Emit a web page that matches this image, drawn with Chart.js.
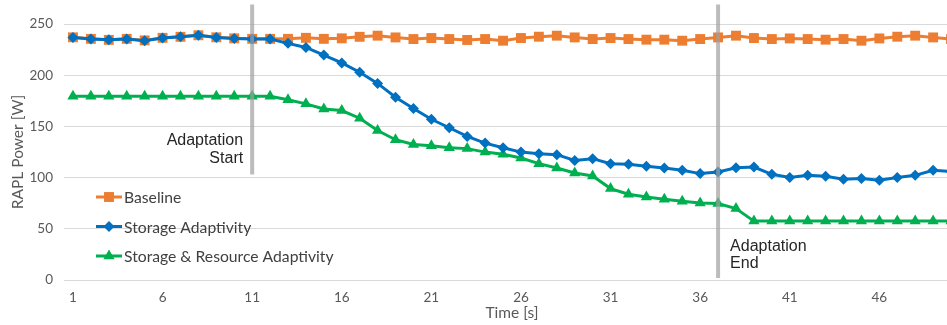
<!DOCTYPE html>
<html>
<head>
<meta charset="utf-8">
<script src="https://cdn.jsdelivr.net/npm/chart.js@4.4.1/dist/chart.umd.min.js"></script>
<style>
    html, body { margin: 0; padding: 0; background: #fff; overflow: hidden; }
    #grafico { display: block; }
</style>
</head>
<body>
<canvas id="grafico" width="967" height="325"></canvas>
<script>
const tempos = ['1','2','3','4','5','6','7','8','9','10','11','12','13','14','15','16','17','18','19','20',
    '21','22','23','24','25','26','27','28','29','30','31','32','33','34','35','36','37','38','39','40',
    '41','42','43','44','45','46','47','48','49','50'];
const rotulosX = ['1','6','11','16','21','26','31','36','41','46'];

const baseline = [237, 235.5, 234.5, 235.5, 234, 236.5, 237.5, 239, 237, 236, 235.5, 235.5, 235.5, 236.5, 235.5,
    236, 237.5, 238.6, 236.9, 235.3, 236.3, 235.3, 234.4, 235.3, 233.7, 236.3, 237.6, 238.6, 236.9, 235.3,
    236.3, 235.3, 234.7, 234.7, 233.7, 235.3, 236.9, 238.6, 236.3, 235.3, 235.9, 235.3, 234.7, 235.3, 233.7,
    235.9, 237.6, 238.6, 236.9, 235.3];
const storageAdapt = [236.9, 235.3, 234.6, 235.3, 233.7, 236.3, 237.6, 238.9, 236.9, 235.9, 235.3, 235.3, 231.1,
    227.1, 219.7, 212, 202.9, 192, 178.5, 167.5, 157, 148.7, 140.2, 133.7, 129.2, 124.9, 123.4, 122.4, 116.8,
    118.5, 113.6, 113, 111, 109.3, 107.1, 103.9, 105.5, 109.7, 110.3, 103.2, 100, 102.2, 101.3, 98.3, 99,
    97.4, 100, 102.2, 107.1, 106];
const storageResAdapt = [179.5, 179.5, 179.5, 179.5, 179.5, 179.5, 179.5, 179.5, 179.5, 179.5, 179.5, 179.5,
    176, 172, 167, 165.5, 158, 146, 137, 132.3, 131, 129.2, 128.3, 124.9, 122.7, 119.1, 113.6, 109.3, 104.5,
    101.6, 89.3, 83.7, 81.1, 78.9, 76.9, 75.3, 74.7, 69.8, 57.5, 57.5, 57.5, 57.5, 57.5, 57.5, 57.5, 57.5,
    57.5, 57.5, 57.5, 57.5];

const nomesSeries = ['Baseline', 'Storage Adaptivity', 'Storage & Resource Adaptivity'];
const coresSeries = ['#ED7D31', '#0070C0', '#00B050'];
const estilosPonto = ['rect', 'rectRot', 'triangle'];
const raiosPonto = [7, 5.5, 6.5];

// linhas verticais de adaptacao: posicao x e faixa em W
const marcas = [
    { x: '11', de: 103, ate: 269, texto: ['Adaptation', 'Start'], lado: 'esq', yTexto: [136, 118.5] },
    { x: '37', de: 2, ate: 269, texto: ['Adaptation', 'End'], lado: 'dir', yTexto: [33, 16.5] }
];

const fonteEixo = 'Lato, "Open Sans", sans-serif';

const pluginMarcas = {
    id: 'marcas',
    afterDatasetsDraw(chart) {
        const ctx = chart.ctx;
        const xs = chart.scales.x;
        const ys = chart.scales.y;
        ctx.save();
        marcas.forEach(m => {
            const px = xs.getPixelForValue(tempos.indexOf(m.x));
            ctx.strokeStyle = 'rgba(160, 160, 160, 0.7)';
            ctx.lineWidth = 4;
            ctx.beginPath();
            ctx.moveTo(px, ys.getPixelForValue(m.ate));
            ctx.lineTo(px, ys.getPixelForValue(m.de));
            ctx.stroke();

            ctx.fillStyle = '#262626';
            ctx.font = '16px "Liberation Sans", Arial, sans-serif';
            ctx.textBaseline = 'middle';
            ctx.textAlign = m.lado === 'esq' ? 'right' : 'left';
            const tx = m.lado === 'esq' ? px - 9 : px + 12;
            m.texto.forEach((t, i) => ctx.fillText(t, tx, ys.getPixelForValue(m.yTexto[i])));
        });
        ctx.restore();
    },
    afterDraw(chart) {
        // legenda dentro da area do grafico
        const ctx = chart.ctx;
        const area = chart.chartArea;
        ctx.save();
        nomesSeries.forEach((nome, i) => {
            const y = 197 + i * 29.5;
            const x0 = area.left + 32;
            ctx.strokeStyle = coresSeries[i];
            ctx.lineWidth = 3;
            ctx.beginPath();
            ctx.moveTo(x0, y);
            ctx.lineTo(x0 + 26, y);
            ctx.stroke();
            ctx.fillStyle = coresSeries[i];
            Chart.helpers.drawPoint(ctx, {
                pointStyle: estilosPonto[i],
                radius: raiosPonto[i],
                rotation: 0
            }, x0 + 13, y);
            ctx.fillStyle = '#404040';
            ctx.font = '15.7px ' + fonteEixo;
            ctx.textBaseline = 'middle';
            ctx.textAlign = 'left';
            ctx.fillText(nome, x0 + 28, y + 1);
        });
        ctx.restore();
    }
};

function criarSerie(i, dados) {
    return {
        label: nomesSeries[i],
        data: dados,
        borderColor: coresSeries[i],
        backgroundColor: coresSeries[i],
        borderWidth: 3,
        pointStyle: estilosPonto[i],
        pointRadius: raiosPonto[i],
        pointBorderWidth: 0,
        tension: 0
    };
}

const ctx = document.getElementById('grafico').getContext('2d');
const grafico = new Chart(ctx, {
    type: 'line',
    data: {
        labels: tempos,
        datasets: [
            criarSerie(1, storageAdapt),
            criarSerie(2, storageResAdapt),
            criarSerie(0, baseline)
        ]
    },
    options: {
        responsive: false,
        animation: false,
        layout: { padding: { top: 24, left: 0, right: 0, bottom: 0 } },
        plugins: {
            legend: { display: false },
            tooltip: { enabled: false }
        },
        scales: {
            x: {
                type: 'category',
                offset: true,
                grid: { display: false, drawTicks: false },
                border: { display: false },
                ticks: {
                    autoSkip: false,
                    maxRotation: 0,
                    padding: 10,
                    color: '#595959',
                    font: { family: fonteEixo, size: 13.5 },
                    callback: function(v) {
                        const l = this.getLabelForValue(v);
                        return rotulosX.includes(l) ? l : '';
                    }
                },
                title: {
                    display: true,
                    text: 'Time [s]',
                    color: '#595959',
                    font: { family: fonteEixo, size: 15.5 },
                    padding: { top: 0, bottom: 3 }
                },
                afterFit: s => { s.height = 45; }
            },
            y: {
                min: 0,
                max: 250,
                grid: { color: '#d9d9d9', lineWidth: 1, drawTicks: false },
                border: { display: false },
                ticks: {
                    stepSize: 50,
                    padding: 11,
                    color: '#595959',
                    font: { family: fonteEixo, size: 13.5 }
                },
                title: {
                    display: true,
                    text: 'RAPL Power [W]',
                    color: '#595959',
                    font: { family: fonteEixo, size: 15.5 },
                    padding: { top: 9, bottom: 0 }
                },
                afterFit: s => { s.width = 64; }
            }
        }
    },
    plugins: [pluginMarcas]
});
</script>
</body>
</html>
